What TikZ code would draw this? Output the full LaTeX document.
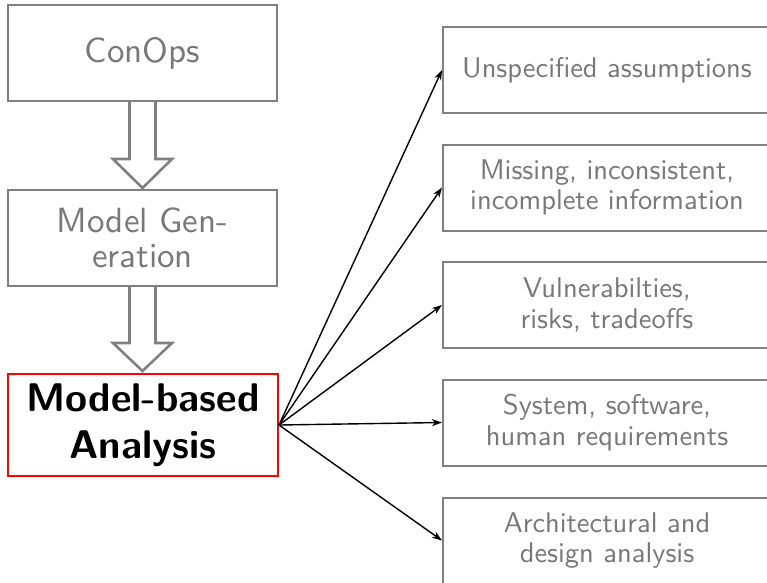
\documentclass[tikz,border=0pt]{standalone}
\usepackage{fontspec}
\setsansfont{lmsans10-regular.otf}[BoldFont=lmsans10-bold.otf]
\usetikzlibrary{arrows.meta}
\definecolor{boxgray}{RGB}{128,128,128}
\definecolor{txtgray}{RGB}{120,120,120}
\tikzset{
  stagebox/.style={draw=boxgray, line width=2pt, fill=white, minimum width=269pt,
    minimum height=96pt, align=center, text=txtgray, inner sep=0pt,
    font=\sffamily\fontsize{35}{35}\selectfont},
  focusbox/.style={draw=red, line width=2pt, fill=white, minimum width=270pt,
    minimum height=102pt, align=center, text=black, inner sep=0pt,
    font=\sffamily\bfseries\fontsize{40}{47}\selectfont},
  outbox/.style={draw=boxgray, line width=2pt, fill=white, minimum width=328pt,
    minimum height=86pt, align=center, text=txtgray, inner sep=0pt,
    font=\sffamily\fontsize{28.5}{30.5}\selectfont},
  flowarrow/.style={draw=boxgray, line width=2.6pt, fill=white, line join=miter},
  conn/.style={draw=black, line width=1.4pt, -{Stealth[length=10pt, width=7pt, inset=3pt]}}
}
\begin{document}
\begin{tikzpicture}[x=1pt, y=-1pt]
\useasboundingbox (0,0) rectangle (767,582);

% process chain on the left
\node[stagebox] (conops) at (142.5,53) {ConOps};
\node[stagebox] (modgen) at (142.5,238) {Model Gen-\\eration};
\node[focusbox] (analysis) at (143,425) {Model-based\\Analysis};

% hollow arrows between the stages
\draw[flowarrow] (conops.south) ++(-13,0) -- ++(0,57) -- ++(-16.5,0)
  -- ++(29.5,29) -- ++(29.5,-29) -- ++(-16.5,0) -- ++(0,-57);
\draw[flowarrow] (modgen.south) ++(-13,0) -- ++(0,56) -- ++(-16.5,0)
  -- ++(29.5,28) -- ++(29.5,-28) -- ++(-16.5,0) -- ++(0,-56);

% outcomes of the analysis
\node[outbox] (o1) at (607,70) {Unspecified assumptions};
\node[outbox] (o2) at (607,187.5) {Missing, inconsistent,\\incomplete information};
\node[outbox] (o3) at (607,305) {Vulnerabilties,\\risks, tradeoffs};
\node[outbox] (o4) at (607,422.5) {System, software,\\human requirements};
\node[outbox] (o5) at (607,540.5) {Architectural and\\design analysis};

\foreach \t in {o1,o2,o3,o4,o5}
  \draw[conn] (analysis.east) -- (\t.west);
\end{tikzpicture}
\end{document}
